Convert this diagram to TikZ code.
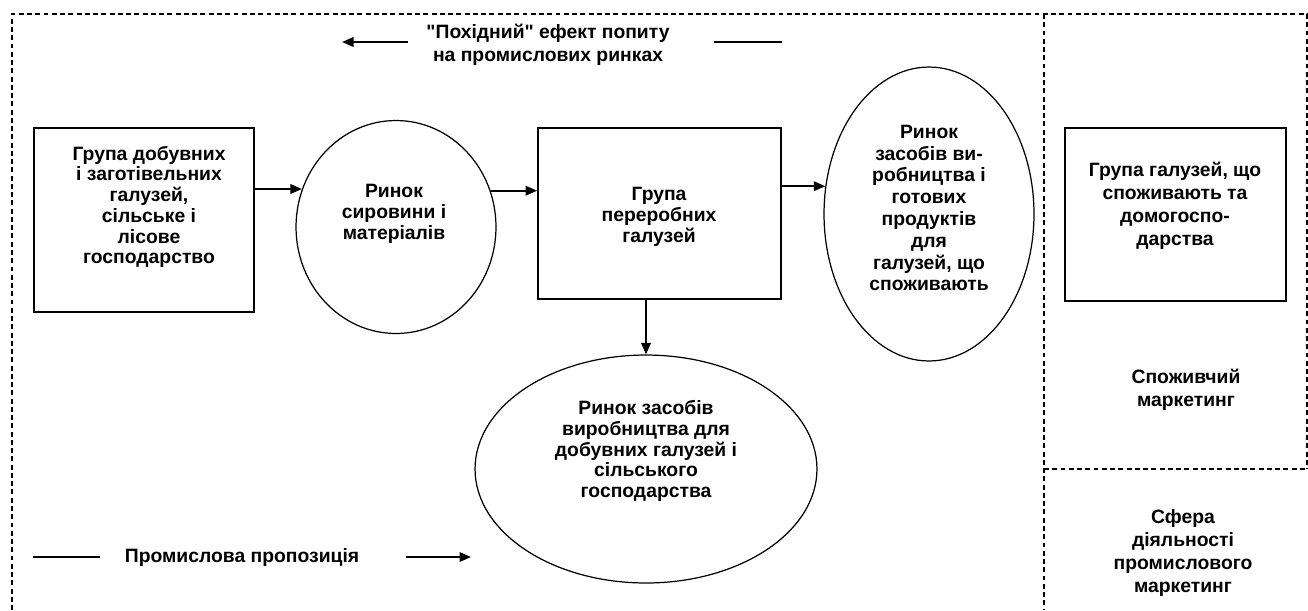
\documentclass[tikz,border=0pt]{standalone}
\usepackage{fontspec}
\setmainfont{Liberation Sans}[Ligatures=TeXOff]
\usetikzlibrary{shapes.geometric,arrows.meta}

\tikzset{
  box/.style={draw,line width=1.1pt,inner sep=0pt},
  oval/.style={draw,ellipse,line width=0.7pt,inner sep=0pt},
  txt/.style={align=center,inner sep=0pt,font=\fontsize{11}{11.8}\selectfont\bfseries},
  txtw/.style={txt,font=\fontsize{11}{13}\selectfont\bfseries},
  arr/.style={line width=1.1pt,-{Triangle[length=0.23cm,width=0.19cm]}},
  frame/.style={line width=0.7pt,dash pattern=on 2.8pt off 1.9pt}
}

\begin{document}
\begin{tikzpicture}[x=0.02cm,y=-0.02cm]
\useasboundingbox (0,0) rectangle (1308,610);

% frame
\draw[frame] (12,610) -- (12,14) -- (1307,14) -- (1307,469);
\draw[frame] (1044,14) -- (1044,610);
\draw[frame] (1044,469) -- (1307,469);

% top label
\node[txtw] (derived) at (548,45) {"Похідний" ефект попиту\\на промислових ринках};
\coordinate (topA) at (408,42);
\coordinate (topB) at (342,42);
\coordinate (topC) at (782,42);
\coordinate (topD) at (714,42);
\draw[arr] (topA) -- (topB);
\draw[line width=1.1pt] (topC) -- (topD);

% box 1
\node[box,minimum width=4.4cm,minimum height=3.68cm] (extract) at (144,220) {};
\node[txt] at (149,207) {Група добувних\\і заготівельних\\галузей,\\сільське і\\лісове\\господарство};

% market 1
\node[oval,minimum width=4cm,minimum height=4.26cm] (raw) at (396,227) {};
\node[txt] at (394,214) {Ринок\\сировини і\\матеріалів};

% box 2
\node[box,minimum width=4.86cm,minimum height=3.42cm] (process) at (659.5,213.5) {};
\node[txt] at (659,217) {Група\\переробних\\галузей};

% market 2
\node[oval,minimum width=4.2cm,minimum height=5.88cm] (goods) at (929,214) {};
\node[txt,font=\fontsize{11}{12.4}\selectfont\bfseries] at (929,208) {Ринок\\засобів ви-\\робництва і\\готових\\продуктів\\для\\галузей, що\\споживають};

% market 3
\node[oval,minimum width=6.84cm,minimum height=4.56cm] (means) at (646,469) {};
\node[txt] at (646,451) {Ринок засобів\\виробництва для\\добувних галузей і\\сільського\\господарства};

% box 3
\node[box,minimum width=4.42cm,minimum height=3.46cm] (consumer) at (1175.5,214.5) {};
\node[txtw] at (1175,206) {Група галузей, що\\споживають та\\домогоспо-\\дарства};

% right column labels
\node[txtw] (cmkt) at (1186,390) {Споживчий\\маркетинг};
\node[txtw] (imkt) at (1183,553) {Сфера\\діяльності\\промислового\\маркетинг};

% bottom label
\node[txt] (supply) at (242,557) {Промислова пропозиція};
\coordinate (botA) at (33,557);
\coordinate (botB) at (100,557);
\coordinate (botC) at (406,557);
\coordinate (botD) at (471,557);
\draw[line width=1.1pt] (botA) -- (botB);
\draw[arr] (botC) -- (botD);

% arrows
\draw[arr] (raw.158 -| extract.east) -- (raw.158);
\draw[arr] (raw.21) -- (raw.21 -| process.west);
\draw[arr] (goods.165 -| process.east) -- (goods.165);
\draw[arr] (process.south -| means.north) -- (means.north);
\end{tikzpicture}
\end{document}
